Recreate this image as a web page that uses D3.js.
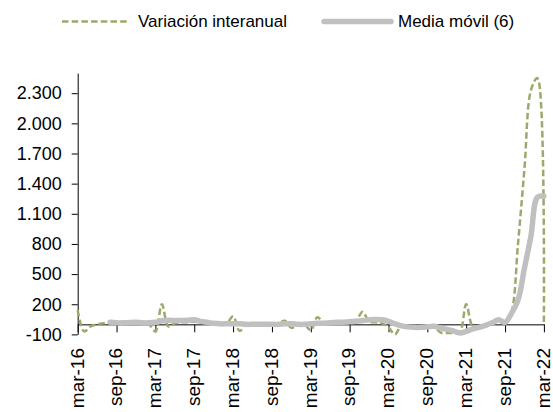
<!DOCTYPE html>
<html>
<head>
<meta charset="utf-8">
<script src="https://cdn.jsdelivr.net/npm/d3@7"></script>
<style>
  html, body { margin: 0; padding: 0; background: #fff; }
  svg { display: block; font-family: "Liberation Sans", Arial, sans-serif; }
</style>
</head>
<body>
<svg id="chart" width="553" height="412"></svg>
<script>
// ---- Data ----
const months = [
  "mar-16","abr-16","may-16","jun-16","jul-16","ago-16","sep-16","oct-16","nov-16","dic-16","ene-17","feb-17",
  "mar-17","abr-17","may-17","jun-17","jul-17","ago-17","sep-17","oct-17","nov-17","dic-17","ene-18","feb-18",
  "mar-18","abr-18","may-18","jun-18","jul-18","ago-18","sep-18","oct-18","nov-18","dic-18","ene-19","feb-19",
  "mar-19","abr-19","may-19","jun-19","jul-19","ago-19","sep-19","oct-19","nov-19","dic-19","ene-20","feb-20",
  "mar-20","abr-20","may-20","jun-20","jul-20","ago-20","sep-20","oct-20","nov-20","dic-20","ene-21","feb-21",
  "mar-21","abr-21","may-21","jun-21","jul-21","ago-21","sep-21","oct-21","nov-21","dic-21","ene-22","feb-22",
  "mar-22"
];

const variacion = [
  140, -70, -20, 0, 10, 15, 20, 10, 15, 20, 10, 0,
  -70, 200, -20, 10, 20, 20, 25, 20, 15, 10, 5, 10,
  80, -65, 0, 5, 5, 5, 5, 10, 35, -35, 0, 0,
  -60, 70, 20, 20, 25, 25, 30, 40, 125, 30, 20, 10,
  -30, -100, -10, -20, -30, -30, -20, -20, -80, -85, -85, -80,
  200, -20, -30, -10, 20, 50, 0, 120, 800, 1550, 2330, 2450,
  20
];

const mediaMovil = [
  null, null, null, null, null, 20, 15, 15, 18, 20, 15, 15,
  20, 35, 40, 38, 38, 40, 45, 30, 20, 10, 5, 5,
  5, 5, 0, 0, 0, 0, 0, 0, 5, 5, 0, 0,
  5, 10, 12, 15, 20, 22, 25, 30, 38, 45, 48, 45,
  30, 5, -15, -25, -30, -30, -25, -20, -35, -50, -65, -85,
  -70, -45, -30, -10, 15, 45, 20, 110, 240, 560, 880, 1265,
  1275
];

const xTickLabels = ["mar-16","sep-16","mar-17","sep-17","mar-18","sep-18","mar-19","sep-19","mar-20","sep-20","mar-21","sep-21","mar-22"];
const yTicks = [-100, 200, 500, 800, 1100, 1400, 1700, 2000, 2300];
const yDomain = [-100, 2500];

const seriesNames = ["Variación interanual", "Media móvil (6)"];

// ---- Setup ----
const svg = d3.select("#chart");
const plotLeft = 77.7, plotRight = 543.9, plotTop = 73.1, plotBottom = 334.4;

const x = d3.scalePoint().domain(months).range([plotLeft, plotRight]);
const y = d3.scaleLinear().domain(yDomain).range([plotBottom, plotTop]);

const loc = d3.formatLocale({decimal: ",", thousands: ".", grouping: [3], currency: ["", ""], minus: "-"});
const fmt = loc.format(",d");

const green = "#9aaa6a";
const grey = "#c0c0c0";
const dash = "6.5,3.2";

// ---- Axes ----
const yAxis = svg.append("g")
  .attr("transform", `translate(${plotLeft},0)`)
  .call(d3.axisLeft(y).tickValues(yTicks).tickFormat(fmt).tickSize(6).tickSizeOuter(0).tickPadding(10));
yAxis.select(".domain").attr("stroke", "#000");
yAxis.selectAll(".tick line").attr("stroke", "#000");
yAxis.selectAll(".tick text")
  .attr("font-size", 18)
  .attr("font-family", "Liberation Sans, Arial, sans-serif")
  .attr("fill", "#000");

const xAxis = svg.append("g")
  .attr("transform", `translate(0,${y(0)})`)
  .call(d3.axisBottom(x).tickValues(xTickLabels).tickSize(8).tickSizeOuter(0));
xAxis.select(".domain").attr("stroke", "#000");
xAxis.selectAll(".tick line").attr("stroke", "#000");
xAxis.selectAll(".tick text")
  .attr("font-size", 19)
  .attr("font-family", "Liberation Sans, Arial, sans-serif")
  .attr("fill", "#000")
  .attr("transform", "rotate(-90)")
  .attr("text-anchor", "end")
  .attr("x", -(348 - y(0)))
  .attr("y", 0)
  .attr("dy", "0.28em");

// ---- Lines ----
const lineGen = d3.line()
  .defined(d => d.v !== null)
  .x(d => x(d.m))
  .y(d => y(d.v))
  .curve(d3.curveCatmullRom.alpha(0.5));

svg.append("path")
  .datum(months.map((m, i) => ({m, v: variacion[i]})))
  .attr("fill", "none")
  .attr("stroke", green)
  .attr("stroke-width", 2.5)
  .attr("stroke-dasharray", dash)
  .attr("d", lineGen);

svg.append("path")
  .datum(months.map((m, i) => ({m, v: mediaMovil[i]})))
  .attr("fill", "none")
  .attr("stroke", grey)
  .attr("stroke-width", 5.5)
  .attr("stroke-linejoin", "round")
  .attr("stroke-linecap", "round")
  .attr("d", lineGen);

// ---- Legend ----
const legY = 21.5;
const leg = svg.append("g");
leg.append("line")
  .attr("x1", 62).attr("x2", 130).attr("y1", legY).attr("y2", legY)
  .attr("stroke", green).attr("stroke-width", 2.5).attr("stroke-dasharray", dash);
leg.append("text")
  .attr("x", 138).attr("y", legY).attr("dy", "0.35em")
  .attr("font-size", 17).attr("fill", "#000")
  .text(seriesNames[0]);
leg.append("line")
  .attr("x1", 324).attr("x2", 391).attr("y1", legY).attr("y2", legY)
  .attr("stroke", grey).attr("stroke-width", 5.5).attr("stroke-linecap", "round");
leg.append("text")
  .attr("x", 398).attr("y", legY).attr("dy", "0.35em")
  .attr("font-size", 17).attr("fill", "#000")
  .text(seriesNames[1]);
</script>
</body>
</html>
